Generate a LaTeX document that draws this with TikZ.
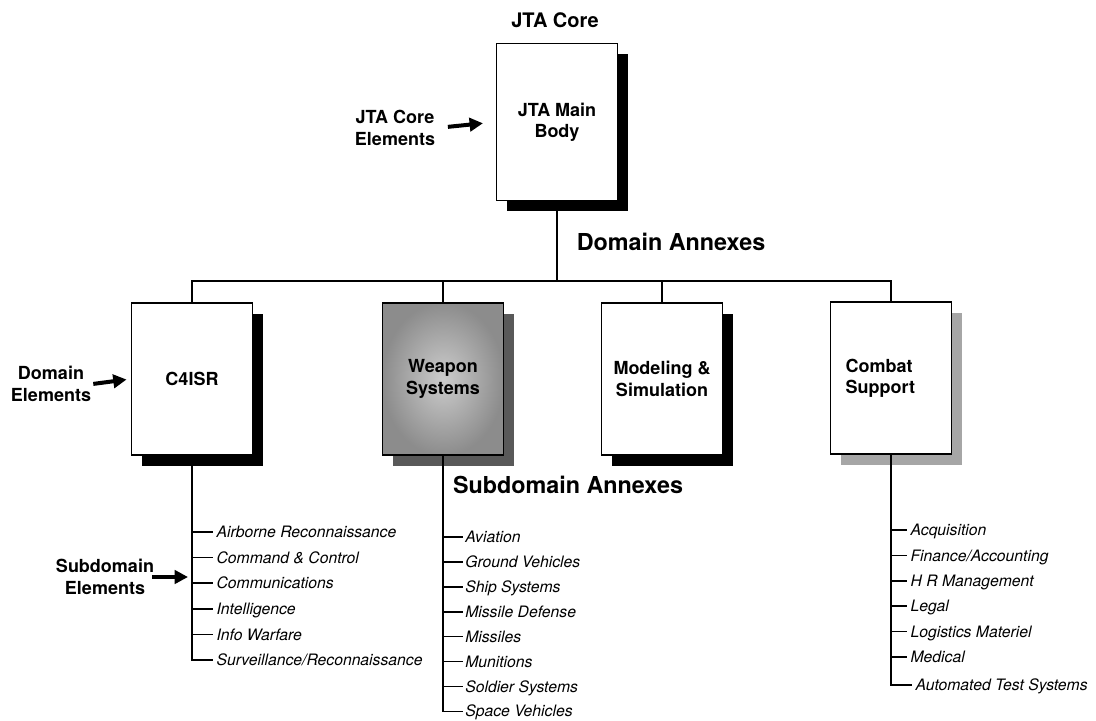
\documentclass[tikz,border=0pt]{standalone}
\usepackage{fontspec}
\setmainfont{TeX Gyre Heros}
\usetikzlibrary{shadows,arrows.meta}

\tikzset{
  annex/.style={draw, line width=1.2pt, fill=white, minimum width=91pt, minimum height=114pt,
    align=center, font=\fontsize{13.5}{16}\selectfont\bfseries},
  blackshadow/.style={drop shadow={shadow xshift=8pt, shadow yshift=-8pt, fill=black, opacity=1}},
  darkshadow/.style={drop shadow={shadow xshift=8pt, shadow yshift=-8pt, fill=black!65, opacity=1}},
  lightshadow/.style={drop shadow={shadow xshift=8pt, shadow yshift=-8pt, fill=black!35, opacity=1}},
  weaponfill/.style={shading=radial, inner color=black!20, outer color=black!45},
  head/.style={font=\fontsize{15}{18}\selectfont\bfseries},
  annexhead/.style={font=\fontsize{17.5}{20}\selectfont\bfseries},
  side/.style={align=center, inner sep=1pt, font=\fontsize{13.5}{16}\selectfont\bfseries},
  item/.style={anchor=west, inner xsep=2.5pt, text height=8.5pt, text depth=0pt,
    font=\fontsize{11.8}{14}\selectfont\itshape},
  link/.style={line width=1.2pt},
  pointer/.style={line width=3pt, -{Triangle[length=10pt,width=10pt]}}
}

\begin{document}
\begin{tikzpicture}[x=0.75pt, y=-0.75pt]
\useasboundingbox (0,0) rectangle (1096,721);

\node[head] (core) at (555,20) {JTA Core};
\node[annex, minimum height=118pt, blackshadow] (jta) at (557,122) {JTA Main\\Body};
\node[side] (corelbl) at (395,128) {JTA Core\\Elements};
\draw[pointer, shorten <=8.5pt, shorten >=9.5pt] (corelbl.east) -- (jta.west);

\node[annexhead] (domhead) at (671,242) {Domain Annexes};
\coordinate (bus) at (557,281);
\draw[link] (jta.south) -- (bus);

\node[annex, blackshadow] (c4isr) at (192,379) {C4ISR};
\node[annex, darkshadow, weaponfill] (weapon) at (443,379) {Weapon\\Systems};
\node[annex, blackshadow] (model) at (662,379) {Modeling \&\\Simulation};
\node[annex, lightshadow, text width=68pt, align=left] (combat) at (891,378) {Combat\\Support};

\draw[link] (c4isr.north) -- (c4isr.north |- bus) -- (combat.north |- bus) -- (combat.north);
\draw[link] (weapon.north) -- (weapon.north |- bus);
\draw[link] (model.north) -- (model.north |- bus);

\node[side] (domlbl) at (51,384) {Domain\\Elements};
\draw[pointer, shorten <=0.5pt, shorten >=3pt] (domlbl.east) -- (c4isr.west);

\node[annexhead] (subhead) at (568,485) {Subdomain Annexes};

\foreach \name [count=\i from 0] in {Airborne Reconnaissance, Command \& Control,
    Communications, Intelligence, Info Warfare, Surveillance/Reconnaissance}
  \node[item] (cs\i) at (213,532+25.6*\i) {\name};
\foreach \i in {0,...,4}
  \draw[link] (cs\i.west -| c4isr.south) -- (cs\i.west);
\draw[link] (c4isr.south) |- (cs5.west);

\node[side] (sublbl) at (105,577) {Subdomain\\Elements};
\draw[pointer, shorten <=-2.5pt, shorten >=3pt] (sublbl.east) -- (sublbl.east -| c4isr.south);

\foreach \name [count=\i from 0] in {Aviation, Ground Vehicles, Ship Systems, Missile Defense,
    Missiles, Munitions, Soldier Systems, Space Vehicles}
  \node[item, inner xsep=1.5pt] (ws\i) at (463,537+24.9*\i) {\name};
\foreach \i in {0,...,6}
  \draw[link] (ws\i.west -| weapon.south) -- (ws\i.west);
\draw[link] (weapon.south) |- (ws7.west);

\foreach \name [count=\i from 0] in {Acquisition, Finance/Accounting, H R Management, Legal,
    Logistics Materiel, Medical}
  \node[item] (cb\i) at (907,530+25.4*\i) {\name};
\node[item] (cb6) at (912,685) {Automated Test Systems};
\foreach \i in {0,...,5}
  \draw[link] (cb\i.west -| combat.south) -- (cb\i.west);
\draw[link] (combat.south) |- (cb6.west);
\end{tikzpicture}
\end{document}
